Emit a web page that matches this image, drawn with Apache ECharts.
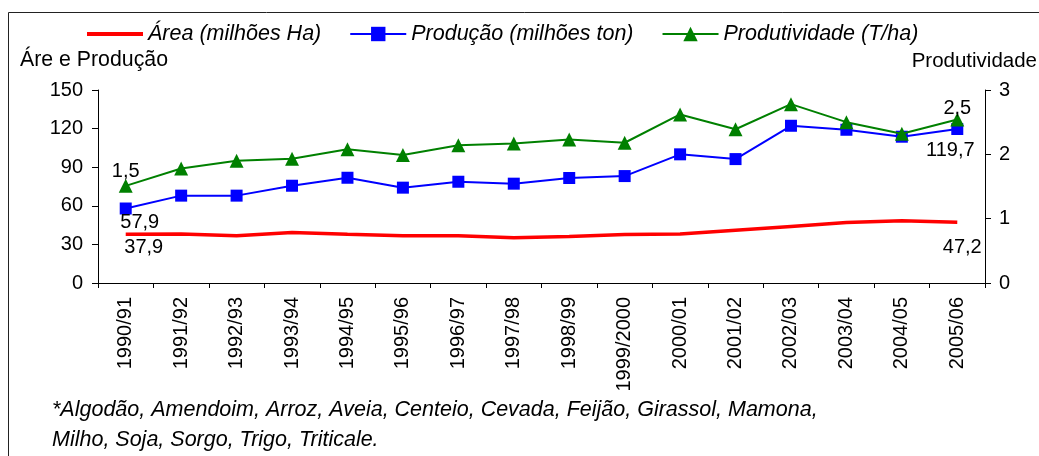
<!DOCTYPE html>
<html>
<head>
<meta charset="utf-8">
<script src="https://cdn.jsdelivr.net/npm/echarts@6/dist/echarts.min.js"></script>
<style>
html,body{margin:0;padding:0;background:#fff;}
#c{width:1039px;height:456px;}
</style>
</head>
<body>
<div id="c"></div>
<script>
const categories = ['1990/91','1991/92','1992/93','1993/94','1994/95','1995/96','1996/97','1997/98','1998/99','1999/2000','2000/01','2001/02','2002/03','2003/04','2004/05','2005/06'];
const area = [37.9, 38.0, 36.8, 39.3, 37.8, 36.8, 36.8, 35.2, 36.2, 37.6, 38.0, 41.0, 44.0, 47.0, 48.3, 47.2];
const producao = [57.9, 67.9, 67.9, 75.6, 81.8, 74.1, 78.7, 77.2, 81.6, 83.1, 100.0, 96.3, 122.2, 119.1, 113.7, 119.7];
const produtividade = [1.51, 1.78, 1.90, 1.93, 2.08, 1.99, 2.14, 2.17, 2.23, 2.18, 2.62, 2.39, 2.78, 2.50, 2.32, 2.54];
const leftTicks = [0, 30, 60, 90, 120, 150];
const rightTicks = [0, 1, 2, 3];
const seriesNames = ['Área (milhões Ha)', 'Produção (milhões ton)', 'Produtividade (T/ha)'];
const footnote = ['*Algodão, Amendoim, Arroz, Aveia, Centeio, Cevada, Feijão, Girassol, Mamona,', 'Milho, Soja, Sorgo, Trigo, Triticale.'];

const FONT = 'Liberation Sans';
const fmt = v => String(v).replace('.', ',');
const lab = (pos, offset, text) => ({show: true, position: pos, offset: offset, color: '#000', fontFamily: FONT, fontSize: 20, formatter: () => text});

function withLabels(arr, labels) {
  return arr.map((v, i) => labels[i] ? {value: v, label: labels[i]} : v);
}
const last = categories.length - 1;

const chart = echarts.init(document.getElementById('c'), null, {renderer: 'canvas'});
chart.setOption({
  animation: false,
  backgroundColor: '#fff',
  textStyle: {fontFamily: FONT},
  grid: {left: 98, right: 54, top: 90, bottom: 173, containLabel: false},
  legend: {
    left: 80, top: 18,
    itemWidth: 56, itemHeight: 18, itemGap: 28,
    textStyle: {fontFamily: FONT, fontSize: 21.5, fontStyle: 'italic', color: '#000'},
    data: [
      {name: seriesNames[0], itemStyle: {opacity: 0}, lineStyle: {width: 4}},
      seriesNames[1],
      seriesNames[2]
    ]
  },
  graphic: [
    {type: 'rect', shape: {x: 8.5, y: 12.5, width: 1040, height: 460}, style: {fill: 'none', stroke: '#222', lineWidth: 1}, z: -1},
    {type: 'text', left: 20, top: 50, style: {text: 'Áre e Produção', fontFamily: FONT, fontSize: 21.3, fill: '#000'}},
    {type: 'text', right: 2, top: 51, style: {text: 'Produtividade', fontFamily: FONT, fontSize: 20.5, fill: '#000'}},
    {type: 'text', left: 52, top: 399, style: {text: footnote[0], fontFamily: FONT, fontSize: 21.5, fontStyle: 'italic', fill: '#000'}},
    {type: 'text', left: 52, top: 429, style: {text: footnote[1], fontFamily: FONT, fontSize: 21.5, fontStyle: 'italic', fill: '#000'}}
  ],
  xAxis: {
    type: 'category', data: categories, boundaryGap: true,
    axisLine: {lineStyle: {color: '#000', width: 1}},
    axisTick: {show: true, alignWithLabel: false, length: 5, lineStyle: {color: '#000'}},
    axisLabel: {rotate: 90, interval: 0, fontFamily: FONT, fontSize: 20, color: '#000', margin: 14}
  },
  yAxis: [
    {type: 'value', min: leftTicks[0], max: leftTicks[leftTicks.length - 1], interval: 30, position: 'left',
     axisLine: {show: true, lineStyle: {color: '#000'}}, axisTick: {show: true, length: 6, lineStyle: {color: '#000'}},
     splitLine: {show: false},
     axisLabel: {fontFamily: FONT, fontSize: 20, color: '#000', margin: 15}},
    {type: 'value', min: rightTicks[0], max: rightTicks[rightTicks.length - 1], interval: 1, position: 'right',
     axisLine: {show: true, lineStyle: {color: '#000'}}, axisTick: {show: true, length: 6, lineStyle: {color: '#000'}},
     splitLine: {show: false},
     axisLabel: {fontFamily: FONT, fontSize: 20, color: '#000', margin: 14}}
  ],
  series: [
    {name: seriesNames[0], type: 'line', yAxisIndex: 0, symbol: 'circle', symbolSize: 0, showSymbol: true, z: 3,
     lineStyle: {color: '#ff0000', width: 3.5}, itemStyle: {color: '#ff0000'},
     data: withLabels(area, {0: lab('bottom', [18, -2], fmt(area[0])), [last]: lab('bottom', [5, 10], fmt(area[last]))})},
    {name: seriesNames[1], type: 'line', yAxisIndex: 0, symbol: 'rect', symbolSize: 12, z: 4,
     lineStyle: {color: '#0000ff', width: 2}, itemStyle: {color: '#0000ff'},
     data: withLabels(producao, {0: lab('bottom', [14, -7], fmt(producao[0])), [last]: lab('bottom', [-7, 0], fmt(producao[last]))})},
    {name: seriesNames[2], type: 'line', yAxisIndex: 1, symbol: 'triangle', symbolSize: 14, z: 5,
     lineStyle: {color: '#008000', width: 2}, itemStyle: {color: '#008000'},
     data: withLabels(produtividade, {0: lab('top', [0, 8], fmt(1.5)), [last]: lab('top', [0, 11], fmt(2.5))})}
  ]
});
</script>
</body>
</html>
